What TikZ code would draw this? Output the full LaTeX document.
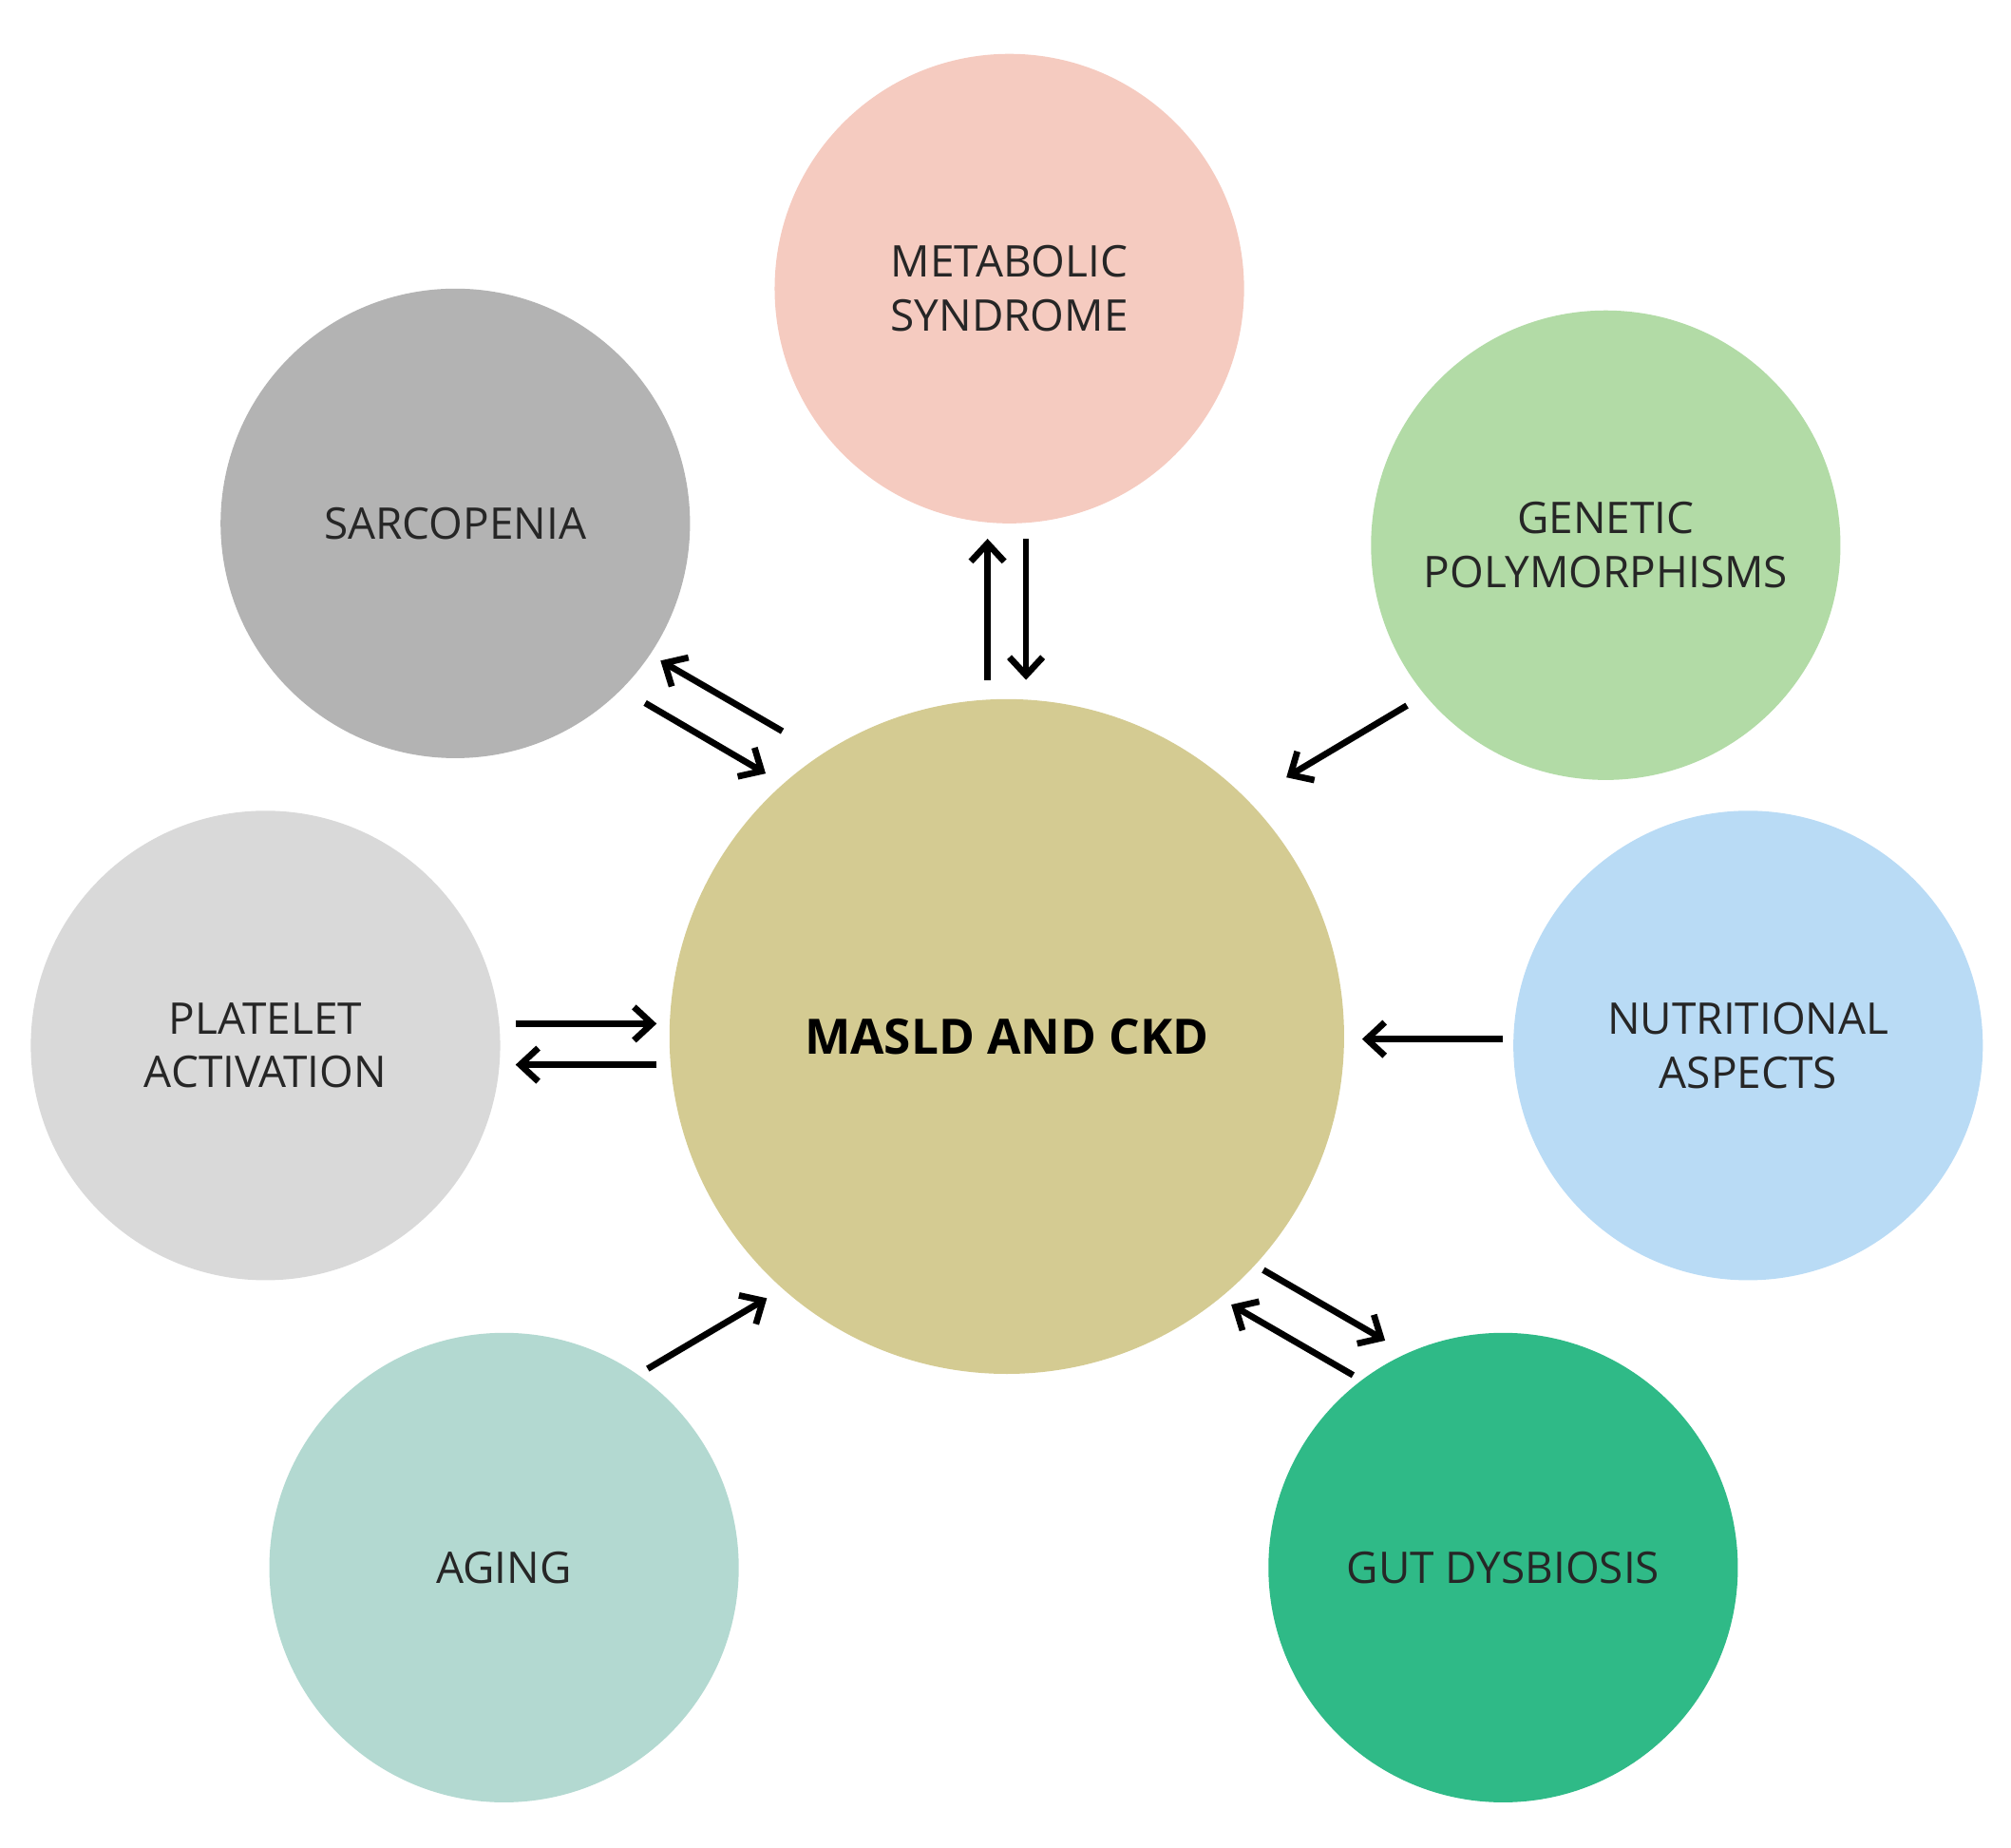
\documentclass[tikz,border=0pt]{standalone}
\usepackage{fontspec}
\setmainfont{Open Sans}
\usetikzlibrary{arrows.meta}
\definecolor{cmet}{HTML}{F5CBC0}
\definecolor{csar}{HTML}{B3B3B3}
\definecolor{cgen}{HTML}{B2DBA6}
\definecolor{cpla}{HTML}{D9D9D9}
\definecolor{cnut}{HTML}{B9DBF5}
\definecolor{cage}{HTML}{B3D9D1}
\definecolor{cgut}{HTML}{2FBA87}
\definecolor{ccen}{HTML}{D4CB92}
\begin{document}
\begin{tikzpicture}[x=1pt,y=-1pt,
  sat/.style={circle,minimum size=366pt,inner sep=0pt,align=center,text=black!85,font=\fontsize{34}{42}\selectfont},
  arr/.style={line width=5pt,-{Straight Barb[length=14pt,width=26pt]}}]
\useasboundingbox (0,0) rectangle (1568,1440);
\node[circle,fill=ccen,minimum size=526pt,font=\fontsize{38}{44}\selectfont\bfseries] (c) at (785,808) {MASLD AND CKD};
\node[sat,fill=cmet] (met) at (787,225) {METABOLIC\\SYNDROME};
\node[sat,fill=csar] (sar) at (355,408) {SARCOPENIA};
\node[sat,fill=cgen] (gen) at (1252,425) {GENETIC\\POLYMORPHISMS};
\node[sat,fill=cpla] (pla) at (207,815) {PLATELET\\ACTIVATION};
\node[sat,fill=cnut] (nut) at (1363,815) {NUTRITIONAL\\ASPECTS};
\node[sat,fill=cage] (age) at (393,1222) {AGING};
\node[sat,fill=cgut] (gut) at (1172,1222) {GUT DYSBIOSIS};
\coordinate (a1) at (770,530); \coordinate (a2) at (770,420);
\coordinate (b1) at (800,420); \coordinate (b2) at (800,530);
\draw[arr] (a1) -- (a2); \draw[arr] (b1) -- (b2);
\coordinate (s1) at (610,570); \coordinate (s2) at (515,515);
\coordinate (s3) at (503,548); \coordinate (s4) at (597,603);
\draw[arr] (s1) -- (s2); \draw[arr] (s3) -- (s4);
\coordinate (g1) at (1097,550); \coordinate (g2) at (1003,606);
\draw[arr] (g1) -- (g2);
\coordinate (p1) at (402,798); \coordinate (p2) at (512,798);
\coordinate (p3) at (512,830); \coordinate (p4) at (402,830);
\draw[arr] (p1) -- (p2); \draw[arr] (p3) -- (p4);
\coordinate (n1) at (1172,810); \coordinate (n2) at (1062,810);
\draw[arr] (n1) -- (n2);
\coordinate (ag1) at (505,1067); \coordinate (ag2) at (598,1012);
\draw[arr] (ag1) -- (ag2);
\coordinate (u1) at (985,990); \coordinate (u2) at (1080,1045);
\coordinate (u3) at (1055,1072); \coordinate (u4) at (960,1017);
\draw[arr] (u1) -- (u2); \draw[arr] (u3) -- (u4);
\end{tikzpicture}
\end{document}
